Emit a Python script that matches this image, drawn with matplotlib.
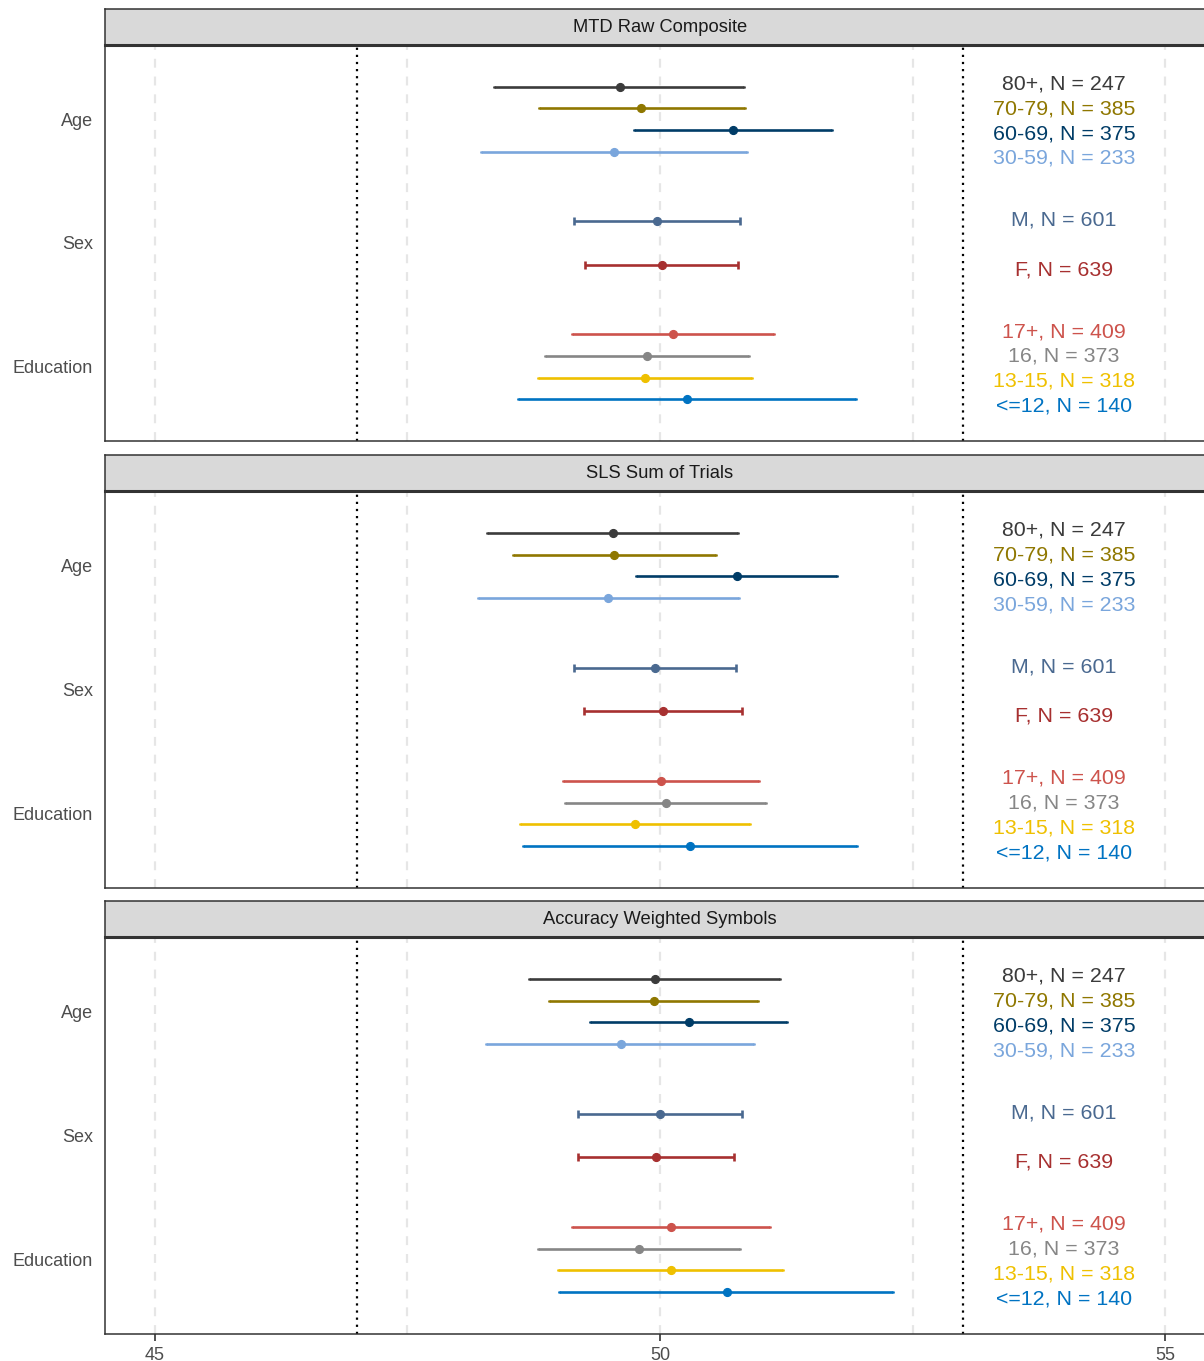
import matplotlib
matplotlib.use("Agg")
import matplotlib.pyplot as plt
import numpy as np

plt.rcParams['font.family'] = ['Liberation Sans', 'DejaVu Sans']

# ---- data ---------------------------------------------------------------
panel_titles = ["MTD Raw Composite", "SLS Sum of Trials", "Accuracy Weighted Symbols"]
group_names = ["Age", "Sex", "Education"]

age_levels = ["80+", "70-79", "60-69", "30-59"]
age_n = [247, 385, 375, 233]
sex_levels = ["M", "F"]
sex_n = [601, 639]
edu_levels = ["17+", "16", "13-15", "<=12"]
edu_n = [409, 373, 318, 140]

# estimates and confidence limits, ordered: age levels, sex levels, education levels
mtd_est = [49.60, 49.81, 50.72, 49.54, 49.97, 50.02, 50.13, 49.87, 49.85, 50.27]
mtd_lo = [48.36, 48.80, 49.74, 48.23, 49.15, 49.26, 49.13, 48.86, 48.79, 48.59]
mtd_hi = [50.83, 50.84, 51.70, 50.86, 50.79, 50.77, 51.13, 50.88, 50.91, 51.94]

sls_est = [49.53, 49.54, 50.76, 49.49, 49.95, 50.03, 50.01, 50.06, 49.75, 50.30]
sls_lo = [48.29, 48.54, 49.76, 48.20, 49.15, 49.25, 49.04, 49.06, 48.61, 48.64]
sls_hi = [50.77, 50.55, 51.75, 50.78, 50.75, 50.81, 50.98, 51.05, 50.89, 51.95]

aws_est = [49.95, 49.94, 50.29, 49.61, 50.00, 49.96, 50.11, 49.79, 50.11, 50.66]
aws_lo = [48.70, 48.90, 49.31, 48.28, 49.19, 49.19, 49.13, 48.79, 48.99, 49.00]
aws_hi = [51.19, 50.97, 51.26, 50.93, 50.81, 50.73, 51.09, 50.79, 51.22, 52.31]

x_ticks = [45, 50, 55]
ref_lines = [47, 53]

# ---- styling ------------------------------------------------------------
level_colors = {
    "80+": "#3B3B3B", "70-79": "#8F7700", "60-69": "#003C67", "30-59": "#7AA6DC",
    "M": "#4A6990", "F": "#A73030",
    "17+": "#CD534C", "16": "#868686", "13-15": "#EFC000", "<=12": "#0073C2",
}

W, H = 1204, 1361
fig = plt.figure(figsize=(W / 100, H / 100), dpi=100)

left_px, right_px = 105, 1215
strip_h = 36
panel_px = [(45, 441), (491, 888), (937, 1334)]

group_levels = [age_levels, sex_levels, edu_levels]
group_ns = [age_n, sex_n, edu_n]
panel_data = [(mtd_est, mtd_lo, mtd_hi), (sls_est, sls_lo, sls_hi), (aws_est, aws_lo, aws_hi)]

dodge_width = 0.7
label_width = 0.8
label_x = 54.0


def fig_rect(top, bottom):
    return [left_px / W, 1 - bottom / H, (right_px - left_px) / W, (bottom - top) / H]


for p, (title, (est, lo, hi)) in enumerate(zip(panel_titles, panel_data)):
    top, bottom = panel_px[p]
    ax = fig.add_axes(fig_rect(top, bottom))
    ax.set_xlim(44.505, 55.495)
    ax.set_ylim(3.6, 0.4)

    # background grid: dashed light vertical lines
    for gx in [45, 47.5, 50, 52.5, 55]:
        ax.axvline(gx, color="#e6e6e6", lw=1.6, ls=(0, (4, 4)), zorder=0)
    for rx in ref_lines:
        ax.axvline(rx, color="black", lw=1.6, ls=(0, (1, 2.2)), zorder=1)

    idx = 0
    for g, (levels, ns) in enumerate(zip(group_levels, group_ns)):
        n = len(levels)
        centre = g + 1
        offs = (np.arange(n) - (n - 1) / 2) * dodge_width / n
        loffs = (np.arange(n) - (n - 1) / 2) * label_width / n
        cap = 3.0 if n == 2 else 1.0
        for k, lev in enumerate(levels):
            c = level_colors[lev]
            y = centre + offs[k]
            e, l, h = est[idx], lo[idx], hi[idx]
            ax.errorbar([e], [y], xerr=[[e - l], [h - e]], fmt="none",
                        ecolor=c, elinewidth=1.9, capsize=cap, capthick=1.9, zorder=3)
            ax.plot([e], [y], "o", color=c, ms=5.6, mec=c, zorder=4)
            ax.text(label_x, centre + loffs[k], f"{lev}, N = {ns[k]}", color=c,
                    ha="center", va="center_baseline", fontsize=15.4)
            idx += 1

    ax.set_yticks([1, 2, 3])
    ax.set_yticklabels(group_names, fontsize=13, color="#4d4d4d")
    ax.tick_params(axis="y", length=0, pad=8.6)
    if p == len(panel_titles) - 1:
        ax.set_xticks(x_ticks)
        ax.set_xticklabels([str(t) for t in x_ticks], fontsize=13, color="#4d4d4d")
        ax.tick_params(axis="x", length=5, width=1.2, color="#333333", pad=4)
    else:
        ax.set_xticks([])
    for s in ax.spines.values():
        s.set_color("#333333")
        s.set_linewidth(1.1)

    # facet strip
    sax = fig.add_axes(fig_rect(top - strip_h, top))
    sax.set_facecolor("#d9d9d9")
    sax.set_xticks([])
    sax.set_yticks([])
    for s in sax.spines.values():
        s.set_color("#333333")
        s.set_linewidth(1.1)
    sax.spines["bottom"].set_linewidth(2.2)
    sax.text(0.5, 0.5, title, transform=sax.transAxes, ha="center", va="center",
             fontsize=13.2, color="#1a1a1a")

fig.savefig("out.png", dpi=100)
